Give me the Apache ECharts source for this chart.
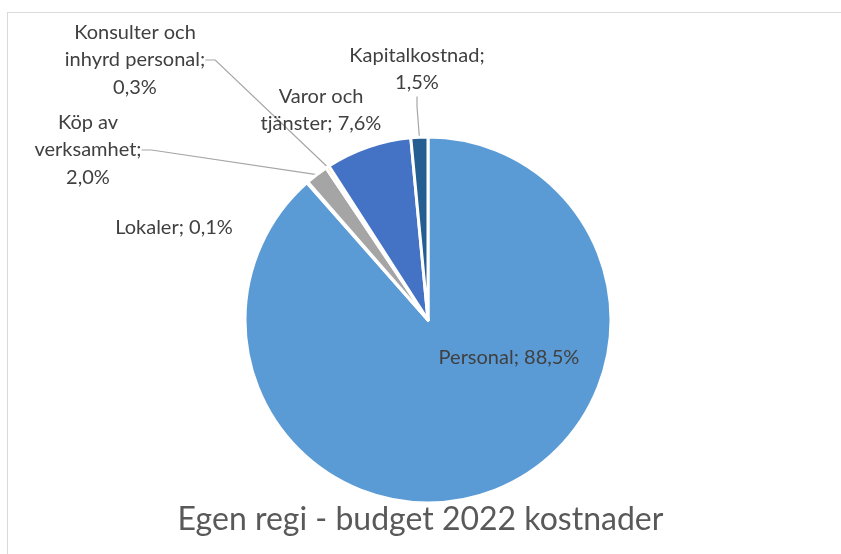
<!DOCTYPE html>
<html>
<head>
<meta charset="utf-8">
<script src="https://cdn.jsdelivr.net/npm/echarts@6/dist/echarts.min.js"></script>
<style>
  html, body { margin: 0; padding: 0; background: #fff; }
  #frame { position: absolute; left: 7px; top: 12px; width: 900px; height: 600px;
           border-left: 1px solid #d9d9d9; border-top: 1px solid #d9d9d9; }
  #chart { position: absolute; left: 0; top: 0; width: 841px; height: 554px; }
</style>
</head>
<body>
<div id="frame"></div>
<div id="chart"></div>
<script>
// kostnadsposter, medurs från kl 12
var categories = ['Personal', 'Lokaler', 'Köp av\nverksamhet', 'Konsulter och\ninhyrd personal', 'Varor och\ntjänster', 'Kapitalkostnad'];
var values = [88.5, 0.1, 2.0, 0.3, 7.6, 1.5];
var colors = ['#5B9BD5', '#ED7D31', '#A5A5A5', '#FFC000', '#4472C4', '#255E91'];

// var etiketten hamnar (mitt på textblocket)
var labelPos = [[509, 358], [174, 228], [88, 150], [135, 60], [321, 110], [417, 69]];
var labelSep = ['; ', '; ', ';\n', ';\n', '; ', ';\n'];
var showLine = [false, false, true, true, false, true];

var pieData = [];
for (var i = 0; i < categories.length; i++) {
    pieData.push({
        name: categories[i],
        value: values[i],
        itemStyle: { color: colors[i] },
        labelLine: { show: showLine[i] }
    });
}

var option = {
    animation: false,
    title: {
        text: 'Egen regi - budget 2022 kostnader',
        left: 'center',
        top: 499,
        padding: [5, 11, 5, 5],
        textStyle: {
            fontFamily: 'Lato',
            fontSize: 32,
            fontWeight: 'normal',
            color: '#595959'
        }
    },
    series: [{
        type: 'pie',
        center: [428, 320],
        radius: 183,
        startAngle: 90,
        clockwise: true,
        minAngle: 0,
        avoidLabelOverlap: false,
        itemStyle: {
            borderColor: '#ffffff',
            borderWidth: 3
        },
        label: {
            show: true,
            fontFamily: 'Lato',
            fontSize: 20,
            lineHeight: 27.5,
            color: '#404040',
            align: 'center',
            formatter: function (p) {
                return p.name + labelSep[p.dataIndex] + p.value.toFixed(1).replace('.', ',') + '%';
            }
        },
        labelLine: {
            length: 10,
            length2: 10,
            smooth: false,
            lineStyle: { color: '#a6a6a6', width: 1.2 }
        },
        labelLayout: function (params) {
            var pos = labelPos[params.dataIndex];
            return {
                x: pos[0],
                y: pos[1],
                align: 'center',
                verticalAlign: 'middle'
            };
        },
        data: pieData
    }]
};

var chartDom = document.getElementById('chart');
var chart = echarts.init(chartDom);
chart.setOption(option, true);
</script>
</body>
</html>
